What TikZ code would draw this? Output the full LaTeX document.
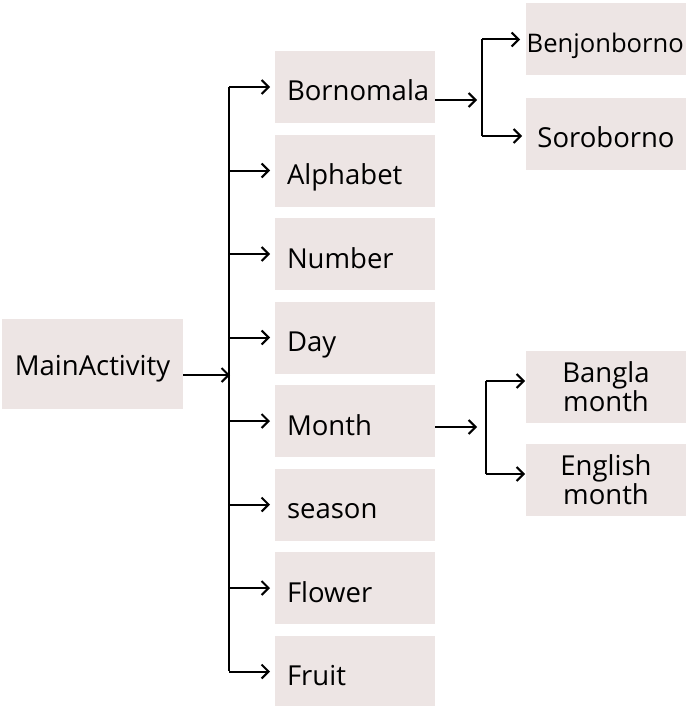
\documentclass[tikz,border=0pt]{standalone}
\usepackage{fontspec}
\setmainfont{Open Sans}
\usetikzlibrary{arrows.meta}
\definecolor{boxfill}{RGB}{237,229,228}
\begin{document}
\begin{tikzpicture}[x=1pt,y=-1pt,
  box/.style={fill=boxfill, draw=none, minimum width=160pt, minimum height=72pt, inner sep=0pt, outer sep=0pt},
  midbox/.style={box, text width=136pt, align=left, inner xsep=12pt, text height=28pt, text depth=0pt},
  lbl/.style={font=\fontsize{27.5}{29}\selectfont},
  line/.style={line width=2pt, black},
  arr/.style={line, -{Straight Barb[length=7pt,width=14pt,line width=2pt]}}
]
\useasboundingbox (0,0) rectangle (686,706);
\fill[white] (0,0) rectangle (686,706);
% main
\node[box, minimum width=181pt, minimum height=90pt, lbl, text height=22pt, text depth=0pt] (main) at (92.5,364) {MainActivity};
% middle column
\foreach \n/\t [count=\i from 0] in {born/Bornomala,alph/Alphabet,numb/Number,day/Day,mon/Month,seas/season,flow/Flower,frui/Fruit}{
  \node[midbox, lbl] (\n) at (355,{87+83.5*\i}) {\t};
}
% right column
\node[box] (benj) at (606,39.5) {};
\node[font=\fontsize{25.6}{28}\selectfont, anchor=base west, inner sep=0pt] (benjt) at (526.5,53) {Benjonborno};
\node[box, lbl, text height=26pt, text depth=0pt] (soro) at (606,134) {Soroborno};
\node[box, lbl, align=center, font=\fontsize{27.5}{29}\selectfont, yshift=-3pt] (bang) at (606,383.5) {Bangla\\month};
\node[box, lbl, align=center, font=\fontsize{27.5}{29}\selectfont, yshift=-3pt] (engl) at (606,476.5) {English\\month};
% main bus
\coordinate (mj) at (229,375);
\coordinate (mtop) at (229,87);
\coordinate (mbot) at (229,671);
\draw[arr, shorten >=-1pt] ([yshift=-11pt]main.east) -- (mj);
\draw[line] (mtop) -- (mbot);
\foreach \n in {born,alph,numb,day,mon,seas,flow,frui}{
  \draw[arr, shorten >=5pt] (mtop |- \n.west) -- (\n.west);
}
% bornomala split
\coordinate (bj) at (482,100);
\coordinate (btop) at (482,39.5);
\coordinate (bbot) at (482,136);
\draw[arr, shorten >=5pt] ([yshift=-13pt]born.east) -- (bj);
\draw[line] (btop) -- (bbot);
\draw[arr, shorten >=6pt] (btop) -- (btop -| benj.west);
\draw[arr, shorten >=4pt] (bbot) -- (bbot -| soro.west);
% month split
\coordinate (oj) at (486,427);
\coordinate (otop) at (486,381);
\coordinate (obot) at (486,474);
\draw[arr, shorten >=9pt] ([yshift=-6pt]mon.east) -- (oj);
\draw[line] (otop) -- (obot);
\draw[arr, shorten >=1pt] (otop) -- (otop -| bang.west);
\draw[arr, shorten >=1pt] (obot) -- (obot -| engl.west);
\end{tikzpicture}
\end{document}
